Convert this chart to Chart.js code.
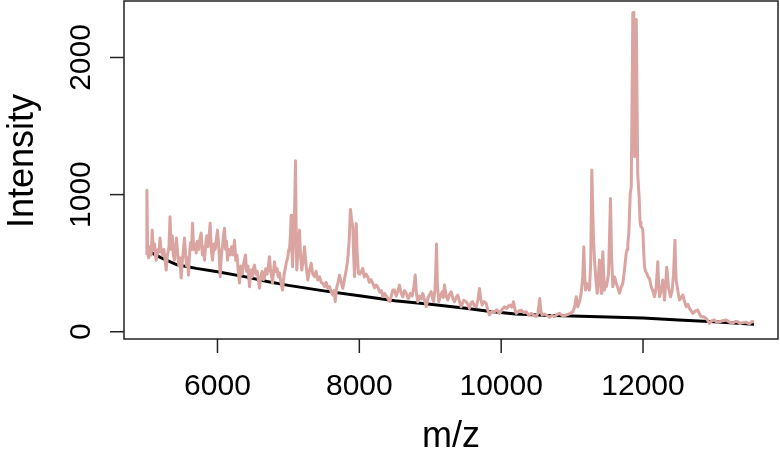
<!DOCTYPE html>
<html>
<head>
<meta charset="utf-8">
<script src="https://cdn.jsdelivr.net/npm/chart.js@4.4.1/dist/chart.umd.min.js"></script>
<style>
  html, body { margin: 0; padding: 0; background: #fff; }
  #wrap { width: 780px; height: 458px; }
</style>
</head>
<body>
<div id="wrap"><canvas id="spectrum" width="780" height="458"></canvas></div>
<script>
// spectrum (m/z, intensity), one line per stretch
const mzValues = [
  5000, 5005, 5015, 5030, 5050, 5065, 5080, 5095, 5112, 5125, 5136, 5160, 5175, 5190, 5207, 5225,
  5245, 5262, 5277, 5295, 5316, 5331, 5347, 5362, 5378, 5394, 5408, 5422, 5440, 5455, 5470, 5488,
  5505, 5520, 5535, 5550, 5565, 5580, 5591, 5605, 5620, 5635, 5648, 5665, 5683, 5700, 5718, 5735,
  5752, 5770, 5787, 5800, 5817, 5835, 5850, 5865, 5880, 5897, 5913, 5930, 5950, 5968, 5985, 6000,
  6014, 6025, 6038, 6055, 6070, 6085, 6099, 6115, 6128, 6141, 6160, 6180, 6200, 6220, 6240, 6258,
  6275, 6292, 6310, 6330, 6350, 6370, 6395, 6410, 6430, 6451, 6470, 6490, 6505, 6522, 6540, 6560,
  6575, 6592, 6610, 6630, 6648, 6663, 6680, 6700, 6718, 6733, 6750, 6765, 6776, 6790, 6804, 6820,
  6840, 6858, 6874, 6895, 6917, 6940, 6955, 6969, 6990, 7005, 7015, 7028, 7039, 7050, 7058, 7075,
  7088, 7100, 7110, 7118, 7135, 7156, 7170, 7189, 7208, 7227, 7250, 7273, 7295, 7321, 7345, 7368,
  7390, 7414, 7440, 7462, 7485, 7510, 7533, 7555, 7580, 7603, 7626, 7645, 7660, 7680, 7700, 7720,
  7745, 7767, 7790, 7815, 7835, 7855, 7875, 7890, 7908, 7920, 7932, 7945, 7956, 7970, 7988, 8010,
  8030, 8049, 8070, 8095, 8119, 8140, 8165, 8190, 8215, 8238, 8260, 8285, 8310, 8331, 8355, 8380,
  8401, 8430, 8450, 8472, 8496, 8520, 8545, 8566, 8590, 8613, 8636, 8661, 8690, 8721, 8745, 8770,
  8788, 8805, 8824, 8850, 8875, 8895, 8920, 8943, 8970, 8990, 9013, 9030, 9046, 9065, 9078, 9088,
  9100, 9120, 9145, 9168, 9185, 9201, 9225, 9247, 9270, 9295, 9320, 9342, 9365, 9388, 9412, 9436,
  9470, 9507, 9530, 9553, 9575, 9595, 9620, 9648, 9672, 9694, 9712, 9732, 9760, 9789, 9810, 9835,
  9870, 9906, 9940, 9976, 10010, 10047, 10080, 10117, 10150, 10174, 10195, 10212, 10245, 10282, 10320, 10353,
  10390, 10423, 10460, 10494, 10520, 10544, 10560, 10578, 10610, 10635, 10660, 10681, 10715, 10750, 10785, 10822,
  10870, 10917, 10960, 11010, 11035, 11058, 11070, 11080, 11105, 11128, 11150, 11165, 11178, 11189, 11210, 11230,
  11245, 11262, 11278, 11290, 11302, 11316, 11330, 11342, 11354, 11370, 11386, 11398, 11410, 11420, 11433, 11445,
  11457, 11470, 11485, 11500, 11513, 11528, 11541, 11556, 11574, 11598, 11622, 11645, 11668, 11690, 11715, 11738,
  11763, 11775, 11786, 11800, 11820, 11834, 11856, 11870, 11882, 11905, 11925, 11945, 11958,
  11970, 11985, 11997, 12008, 12021, 12037, 12053, 12072, 12091, 12103, 12115, 12138, 12162, 12185, 12208, 12220,
  12232, 12255, 12279, 12292, 12303, 12320, 12335, 12360, 12387, 12410, 12430, 12450, 12458, 12467, 12490, 12514,
  12538, 12561, 12585, 12609, 12632, 12655, 12680, 12702, 12735, 12772, 12795, 12820, 12855, 12891, 12915, 12937,
  12970, 13008, 13040, 13078, 13120, 13173, 13220, 13262, 13300, 13330, 13365, 13403, 13450, 13502, 13535, 13565
];
const intensityValues = [
  560, 1031, 600, 540, 620, 560, 741, 600, 640, 560, 522, 600, 580, 683, 590, 560,
  600, 520, 450, 560, 620, 838, 600, 700, 560, 522, 620, 683, 560, 480, 540, 391,
  520, 600, 683, 560, 480, 540, 413, 560, 650, 600, 792, 600, 640, 574, 660, 600,
  680, 719, 560, 620, 522, 640, 700, 620, 680, 792, 600, 522, 640, 600, 680, 741,
  650, 560, 401, 560, 620, 700, 755, 600, 660, 522, 600, 560, 620, 560, 668, 520,
  560, 450, 355, 480, 420, 500, 559, 440, 480, 328, 450, 400, 460, 486, 420, 440,
  380, 318, 400, 440, 380, 391, 460, 420, 480, 547, 440, 400, 355, 440, 510, 440,
  460, 400, 428, 360, 304, 420, 460, 500, 540, 600, 595, 700, 850, 600, 474, 700,
  900, 1247, 700, 450, 600, 741, 560, 450, 520, 620, 480, 377, 440, 499, 420, 401,
  440, 377, 400, 360, 353, 330, 360, 316, 330, 290, 268, 300, 219, 320, 360, 413,
  360, 316, 380, 450, 520, 650, 892, 820, 765, 560, 401, 600, 790, 560, 426, 420,
  440, 462, 400, 420, 401, 360, 380, 353, 320, 340, 328, 290, 300, 255, 280, 260,
  243, 219, 260, 304, 304, 260, 300, 340, 280, 255, 300, 280, 240, 280, 260, 330,
  413, 280, 219, 260, 240, 280, 230, 182, 250, 270, 292, 250, 219, 300, 450, 639,
  350, 219, 260, 292, 250, 340, 260, 231, 270, 292, 240, 219, 250, 268, 220, 182,
  230, 219, 200, 170, 210, 219, 190, 182, 230, 316, 240, 195, 220, 207, 160, 122,
  150, 146, 160, 134, 160, 182, 170, 195, 180, 219, 160, 134, 150, 158, 140, 146,
  120, 134, 120, 110, 140, 243, 150, 122, 130, 122, 115, 105, 120, 110, 125, 134,
  115, 122, 130, 146, 180, 255, 200, 182, 220, 280, 400, 620, 400, 304, 350, 320,
  304, 500, 1179, 900, 668, 520, 420, 350, 280, 400, 523, 400, 280, 420, 583, 420,
  304, 360, 330, 380, 420, 700, 972, 560, 328, 400, 353, 320, 280, 320, 353, 450,
  571, 600, 644, 720, 1009, 1055, 2326, 2330, 1276, 2277, 1150, 984, 800,
  765, 760, 741, 600, 474, 440, 426, 400, 389, 360, 328, 300, 255, 320, 510, 350,
  255, 300, 377, 300, 231, 350, 470, 320, 255, 300, 420, 668, 500, 377, 300, 231,
  250, 268, 220, 182, 200, 170, 150, 134, 150, 158, 130, 109, 110, 97, 80, 61,
  80, 85, 70, 73, 80, 85, 70, 62, 75, 75, 60, 66, 70, 58, 75, 70
];

// fitted baseline
const baselineMz = [5020, 5200, 5430, 5700, 6000, 6400, 6700, 7000, 7500, 8000, 8500, 9000, 9500, 9820, 10200, 10600, 11000, 11500, 12000, 12500, 13000, 13565];
const baselineValues = [590, 540, 488, 462, 437, 400, 366, 338, 298, 262, 226, 200, 172, 150, 130, 120, 115, 108, 100, 85, 72, 55];

// axis ticks
const xTickValues = [6000, 8000, 10000, 12000];
const yTickValues = [0, 1000, 2000];

const toPoints = (xs, ys) => xs.map((x, i) => ({ x: x, y: ys[i] }));

// R-style box, ticks and labels drawn from the chart scales
const rAxes = {
  id: 'rAxes',
  afterDraw(chart) {
    const ctx = chart.ctx;
    const area = chart.chartArea;
    const xs = chart.scales.x;
    const ys = chart.scales.y;
    ctx.save();
    ctx.strokeStyle = '#222';
    ctx.lineWidth = 1.5;
    ctx.strokeRect(area.left, area.top, area.right - area.left, area.bottom - area.top);

    ctx.fillStyle = '#000';
    ctx.font = '30px "Liberation Sans", Arial, sans-serif';
    ctx.textAlign = 'center';
    ctx.textBaseline = 'alphabetic';
    xTickValues.forEach(v => {
      const px = xs.getPixelForValue(v);
      ctx.beginPath();
      ctx.moveTo(px, area.bottom);
      ctx.lineTo(px, area.bottom + 14);
      ctx.stroke();
      ctx.fillText(String(v), px, 395);
    });
    yTickValues.forEach(v => {
      const py = ys.getPixelForValue(v);
      ctx.beginPath();
      ctx.moveTo(area.left, py);
      ctx.lineTo(area.left - 14, py);
      ctx.stroke();
      ctx.save();
      ctx.translate(90, py);
      ctx.rotate(-Math.PI / 2);
      ctx.fillText(String(v), 0, 0);
      ctx.restore();
    });

    ctx.font = '36px "Liberation Sans", Arial, sans-serif';
    ctx.fillText('m/z', (area.left + area.right) / 2, 447);
    ctx.save();
    ctx.translate(33, 161);
    ctx.rotate(-Math.PI / 2);
    ctx.fillText('Intensity', 0, 0);
    ctx.restore();
    ctx.restore();
  }
};

new Chart(document.getElementById('spectrum'), {
  type: 'scatter',
  data: {
    datasets: [
      {
        label: 'Spectrum',
        data: toPoints(mzValues, intensityValues),
        showLine: true,
        borderColor: '#DAA4A1',
        borderWidth: 3,
        borderJoinStyle: 'round',
        pointRadius: 0,
        tension: 0
      },
      {
        label: 'Baseline',
        data: toPoints(baselineMz, baselineValues),
        showLine: true,
        borderColor: '#000',
        borderWidth: 3,
        pointRadius: 0,
        tension: 0
      }
    ]
  },
  options: {
    responsive: false,
    animation: false,
    events: [],
    layout: { padding: { left: 124, top: 1, right: 2, bottom: 119 } },
    plugins: { legend: { display: false }, tooltip: { enabled: false } },
    scales: {
      x: { type: 'linear', min: 4682, max: 13903, display: false },
      y: { type: 'linear', min: -53, max: 2412, display: false }
    }
  },
  plugins: [rAxes]
});
</script>
</body>
</html>
